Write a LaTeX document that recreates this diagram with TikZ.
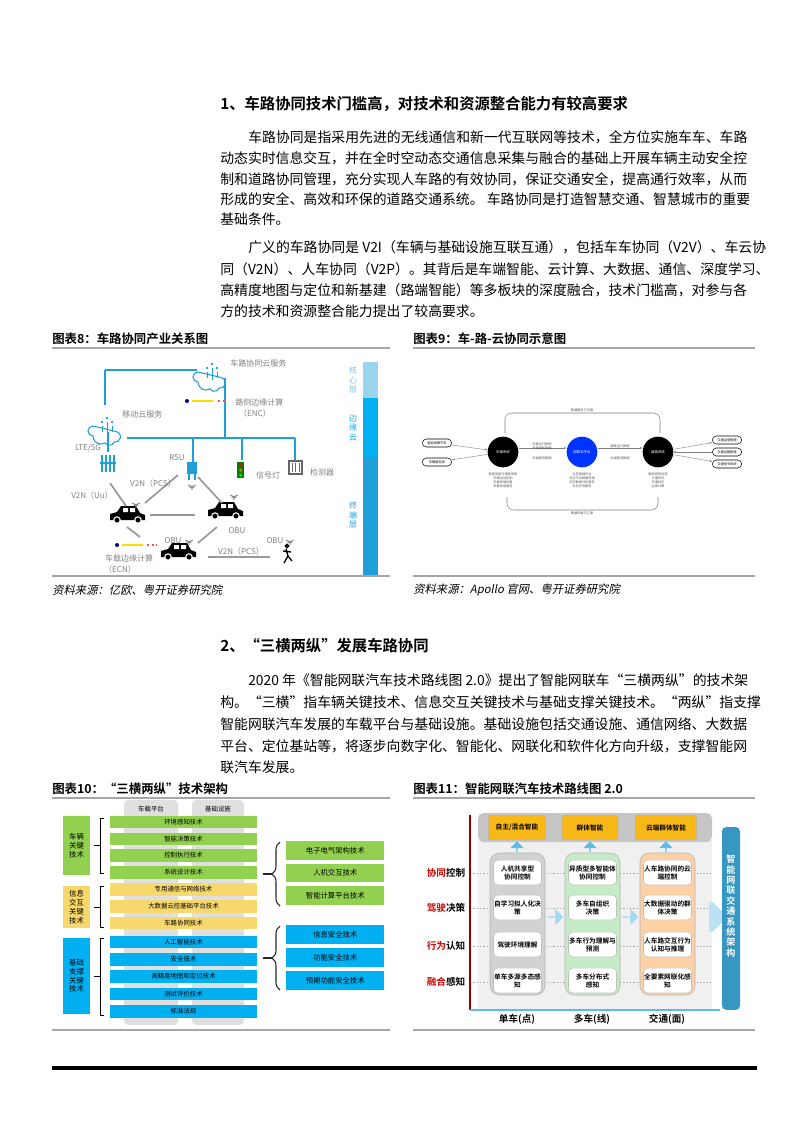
\documentclass[tikz,border=0pt]{standalone}
\usepackage{fontspec}
\setmainfont{Noto Sans CJK SC}[BoldFont={Noto Sans CJK SC Bold}]
\newfontfamily\srcfont{Noto Sans CJK SC}[FakeSlant=0.2]
\usetikzlibrary{arrows.meta,decorations.pathreplacing,shapes.arrows,calc}
\definecolor{lblue}{HTML}{1E9FD8}
\definecolor{gbar}{HTML}{92D050}
\definecolor{ybar}{HTML}{F6D86C}
\definecolor{bbar}{HTML}{00B0F0}
\definecolor{obox}{HTML}{F7B818}
\tikzset{
 body/.style={anchor=west,inner sep=0,font=\fontsize{10.4}{12}\selectfont},
 head/.style={anchor=west,inner sep=0,font=\bfseries\fontsize{11.5}{13}\selectfont},
 capt/.style={anchor=west,inner sep=0,font=\bfseries\fontsize{9.3}{11}\selectfont},
 src/.style={anchor=west,inner sep=0,font=\srcfont\fontsize{8.5}{10}\selectfont},
 gl/.style={gray,font=\fontsize{6}{7}\selectfont,inner sep=0},
 net/.style={lblue,line width=1.4pt},
 link/.style={gray!80,line width=1.3pt},
 bar/.style={minimum width=110.25pt,minimum height=9.5pt,inner sep=0,font=\fontsize{4.8}{5}\selectfont},
 rbox/.style={minimum width=73.5pt,minimum height=14pt,inner sep=0,anchor=west,font=\fontsize{5.5}{6}\selectfont},
 lbox/.style={inner sep=0,align=center,font=\fontsize{5.5}{6.6}\selectfont},
 ibox/.style={draw=gray!50,fill=white,rounded corners=3pt,minimum width=36pt,minimum height=18.5pt,inner sep=0,align=center,font=\bfseries\fontsize{5}{6}\selectfont},
 tbox/.style={fill=obox,draw=gray!60,rounded corners=2pt,minimum height=18.5pt,inner sep=0,font=\bfseries\fontsize{5}{6}\selectfont},
 rowl/.style={inner sep=0,font=\bfseries\fontsize{7.2}{8}\selectfont},
 tiny/.style={inner sep=0,font=\fontsize{2.4}{3}\selectfont,gray!70!black,align=center},
 pill/.style={draw=black,rounded corners=3pt,minimum width=22pt,minimum height=6pt,inner sep=0,font=\fontsize{2.4}{3}\selectfont},
 circ/.style={circle,minimum size=23pt,inner sep=0,text=white,font=\fontsize{2.6}{3}\selectfont},
 uparr/.style={single arrow,shape border rotate=90,fill=lblue!70,minimum height=8pt,minimum width=10pt,single arrow head extend=2pt,inner sep=0},
 rtarr/.style={single arrow,fill=lblue!40,minimum height=12pt,minimum width=12pt,single arrow head extend=2pt,inner sep=0},
}
\begin{document}
\begin{tikzpicture}[x=0.75pt,y=-0.75pt]
\useasboundingbox (0,0) rectangle (793,1122);
% ---------------- text
\node[head] (h1) at (220,104) {1、车路协同技术门槛高，对技术和资源整合能力有较高要求};
\node[body] (p1) at (248,137) {车路协同是指采用先进的无线通信和新一代互联网等技术，全方位实施车车、车路};
\node[body] (p2) at (220,158) {动态实时信息交互，并在全时空动态交通信息采集与融合的基础上开展车辆主动安全控};
\node[body] (p3) at (220,179) {制和道路协同管理，充分实现人车路的有效协同，保证交通安全，提高通行效率，从而};
\node[body] (p4) at (220,199) {形成的安全、高效和环保的道路交通系统。 车路协同是打造智慧交通、智慧城市的重要};
\node[body] (p5) at (220,219) {基础条件。};
\node[body] (q1) at (248,247) {广义的车路协同是 V2I（车辆与基础设施互联互通），包括车车协同（V2V）、车云协};
\node[body] (q2) at (220,269) {同（V2N）、人车协同（V2P）。其背后是车端智能、云计算、大数据、通信、深度学习、};
\node[body] (q3) at (220,290) {高精度地图与定位和新基建（路端智能）等多板块的深度融合，技术门槛高，对参与各};
\node[body] (q4) at (220,311) {方的技术和资源整合能力提出了较高要求。};
\node[head] (h2) at (220,646) {2、“三横两纵”发展车路协同};
\node[body] (r1) at (248,680) {2020 年《智能网联汽车技术路线图 2.0》提出了智能网联车“三横两纵”的技术架};
\node[body] (r2) at (220,702) {构。“三横”指车辆关键技术、信息交互关键技术与基础支撑关键技术。“两纵”指支撑};
\node[body] (r3) at (220,724) {智能网联汽车发展的车载平台与基础设施。基础设施包括交通设施、通信网络、大数据};
\node[body] (r4) at (220,746) {平台、定位基站等，将逐步向数字化、智能化、网联化和软件化方向升级，支撑智能网};
\node[body] (r5) at (220,767) {联汽车发展。};
% captions
\node[capt] (c8) at (52,339) {图表8：车路协同产业关系图};
\node[capt] (c9) at (413,339) {图表9：车-路-云协同示意图};
\node[capt] (c10) at (52,789) {图表10：“三横两纵”技术架构};
\node[capt] (c11) at (413,789) {图表11：智能网联汽车技术路线图 2.0};
\draw[gray!70,line width=0.9pt] (52,348)--(390,348) (413,348)--(755,348) (52,576)--(390,576) (413,576)--(755,576)
  (52,798)--(390,798) (413,798)--(755,798) (52,1030)--(390,1030) (413,1030)--(755,1030);
\node[src] (s8) at (52,590) {资料来源：亿欧、粤开证券研究院};
\node[src] (s9) at (413,590) {资料来源：Apollo 官网、粤开证券研究院};
\draw[black,line width=2.4pt] (52,1068)--(757,1068);
% ---------------- figure 8
\fill[lblue!45] (363,362) rectangle (378,398);
\fill[bbar] (363,398) rectangle (378,457);
\fill[lblue] (363,457) rectangle (378,575);
\node[lbox,lblue!60,font=\fontsize{6}{7}\selectfont] (l1) at (353,380) {核\\心\\层};
\node[lbox,bbar,font=\fontsize{6}{7}\selectfont] (l2) at (353,428) {边\\缘\\云};
\node[lbox,lblue,font=\fontsize{6}{7}\selectfont] (l3) at (353,515) {终\\端\\层};
\draw[net] (105,370)--(197,370) (105,370)--(105,405) (225,378)--(225,438) (127,438)--(295,438)
  (193,438)--(193,462) (242,438)--(242,460) (295,438)--(295,460) (108,432)--(108,452);
\foreach \cx/\cy in {212/366,107/420}{
 \fill[white] (\cx,\cy) circle (9);
 \draw[lblue,line width=0.8pt] (\cx-14,\cy+6) arc (270:90:5) arc (180:60:8) arc (150:20:5) arc (100:-90:5.5) -- cycle;
 \draw[lblue,line width=0.7pt] (\cx-5,\cy+6)--(\cx-5,\cy+12) (\cx,\cy+2)--(\cx,\cy+14) (\cx+5,\cy+6)--(\cx+5,\cy+12);
 \fill[lblue] (\cx-5,\cy+2) circle (1.3) (\cx,\cy-2) circle (1.3) (\cx+5,\cy+2) circle (1.3);}
\node[gl,anchor=west] (t1) at (230,363) {车路协同云服务};
\node[gl,anchor=west] (t2) at (122,414) {移动云服务};
\fill[blue!50!black] (187,401) circle (2);
\draw[yellow!80!orange,line width=1.5pt] (192,401)--(213,401);
\draw[red!70,line width=1.2pt,dash pattern=on 1.5pt off 2pt] (218,401)--(226,401);
\node[gl,anchor=west] (t3) at (235,402) {路侧边缘计算};
\node[gl] (t4) at (255,413) {（ENC）};
\node[gl] (t5) at (88,448) {LTE/5G};
\foreach \dx in {-6,-2,2,6}\draw[lblue,line width=1.2pt] (108+\dx,455)--(108+\dx,472);
\draw[lblue,line width=1.2pt] (100,463)--(116,463);
\node[gl] (t6) at (177,458) {RSU};
\fill[lblue] (187,462) rectangle (197,474);
\draw[lblue,line width=0.8pt] (189,474)--(189,480) (195,474)--(195,480);
\fill[green!50!black] (237,462) rectangle (244,478);
\fill[red] (240.5,465) circle (1.5); \fill[orange] (240.5,470) circle (1.5); \fill[green] (240.5,475) circle (1.5);
\node[gl] (t7) at (268,475) {信号灯};
\draw[gray!80!black,line width=0.8pt] (289,461) rectangle (302,474);
\foreach \dx in {292,295.5,299}\draw[gray!80!black] (\dx,463)--(\dx,472);
\node[gl] (t8) at (322,472) {检测器};
% cars
\foreach \cx/\cy/\nm in {127/516/ca,225/512/cb,178/553/cc}{
 \fill[black] (\cx-17,\cy+4) -- (\cx-17,\cy-2) -- (\cx-10,\cy-4) -- (\cx-6,\cy-10) -- (\cx+9,\cy-10) -- (\cx+13,\cy-3) -- (\cx+18,\cy-1) -- (\cx+18,\cy+4) -- cycle;
 \fill[white] (\cx-4,\cy-8) rectangle (\cx+1,\cy-4) (\cx+3,\cy-8) rectangle (\cx+8,\cy-4);
 \filldraw[fill=black,draw=white,line width=0.8pt] (\cx-10,\cy+4) circle (3.2) (\cx+11,\cy+4) circle (3.2);
 \coordinate (\nm) at (\cx,\cy);}
\draw[black,line width=1pt] (287,546) circle (1.6) (286,549)--(288,556)--(284,563) (288,556)--(292,561) (283,551)--(291,552);
\draw[link] (110,483)--(126,506);
\draw[link] (178,475)--(145,503);
\draw[link] (198,477)--(222,503);
\draw[link] (150,515)--(195,515);
\draw[link] (127,527)--(140,537);
\draw[link] (217,527)--(198,543);
\draw[link] (208,557)--(270,557);
\foreach \wx/\wy in {136/503,234/495,189/540,290/540,192/485}{
 \draw[gray,line width=0.6pt] (\wx-4,\wy) arc (135:45:5.6) (\wx-2.5,\wy+2) arc (135:45:3.5);
 \fill[gray] (\wx,\wy+4) circle (0.8);}
\node[gl] (t9) at (92,495) {V2N（Uu）};
\node[gl] (t10) at (153,483) {V2N（PCS）};
\node[gl] (t11) at (237,531) {OBU};
\node[gl] (t12) at (173,541) {OBU};
\node[gl] (t13) at (275,541) {OBU};
\node[gl] (t14) at (241,551) {V2N（PCS）};
\fill[blue!50!black] (117,545) circle (2);
\draw[yellow!80!orange,line width=1.5pt] (122,545)--(143,545);
\draw[red!70,line width=1.2pt,dash pattern=on 1.5pt off 2pt] (147,545)--(157,545);
\node[gl] (t15) at (129,558) {车载边缘计算};
\node[gl] (t16) at (120,569) {（ECN）};
% ---------------- figure 9
\node[circ,fill=black] (v1) at (503,452) {车辆系统};
\node[circ,fill=blue!80!cyan] (v2) at (582,452) {网联云平台};
\node[circ,fill=black] (v3) at (658,452) {道路系统};
\node[pill] (b1) at (437,443) {智能网联汽车};
\node[pill] (b2) at (437,462) {车辆服务商};
\node[pill] (b3) at (727,440) {交通运营管理};
\node[pill] (b4) at (727,452) {交通运输管理};
\node[pill] (b5) at (727,464) {交通信号系统};
\draw[gray,line width=0.3pt,-{Stealth[length=2pt]}] (b1)--(v1);
\draw[gray,line width=0.3pt,-{Stealth[length=2pt]}] (v1)--(b2);
\draw[gray,line width=0.3pt,-{Stealth[length=2pt]}] ($(v1.east)+(0,-4)$) -- ($(v2.west)+(0,-4)$);
\draw[gray,line width=0.3pt,-{Stealth[length=2pt]}] ($(v2.east)+(0,-4)$) -- ($(v3.west)+(0,-4)$);
\draw[gray,line width=0.3pt,-{Stealth[length=2pt]}] (v3)--(b3);
\draw[gray,line width=0.3pt,-{Stealth[length=2pt]}] (b4)--(v3);
\draw[gray,line width=0.3pt,-{Stealth[length=2pt]}] (v3)--(b5);
\draw[gray,line width=0.4pt,rounded corners=5pt] (505,433)--(505,413)--(660,413)--(660,433);
\draw[gray,line width=0.4pt,rounded corners=5pt] (507,497)--(507,510)--(658,510)--(658,497);
\node[tiny] (x1) at (582,410) {数据服务与交换};
\node[tiny] (x2) at (582,513) {数据采集与汇聚};
\node[tiny] (x3) at (542,446) {车辆运行数据\\车辆感知数据};
\node[tiny] (x4) at (542,458) {云端服务数据};
\node[tiny] (x5) at (620,446) {道路运行数据};
\node[tiny] (x6) at (620,458) {云端服务数据};
\node[tiny] (x7) at (503,480) {智能驾驶与辅助驾驶\\车辆运动控制\\车载终端设备\\车辆信息服务};
\node[tiny] (x8) at (582,480) {云控基础平台\\云控平台数据资源\\云控数据分析服务\\云控应用服务};
\node[tiny] (x9) at (658,480) {路侧感知设施\\交通信号\\交通标志\\边缘计算};
% ---------------- figure 10
\fill[gray!25,rounded corners=3pt] (124,800) rectangle (178,1025);
\fill[gray!25,rounded corners=3pt] (192,800) rectangle (244,1025);
\node[inner sep=0,font=\fontsize{4.8}{5}\selectfont] (cz) at (151,809) {车载平台};
\node[inner sep=0,font=\fontsize{4.8}{5}\selectfont] (jc) at (218,809) {基础设施};
\foreach \y/\t/\c in {822/环境感知技术/gbar,839/智能决策技术/gbar,855.5/控制执行技术/gbar,872.5/系统设计技术/gbar,
 889.5/专用通信与网络技术/ybar,906.5/大数据云控基础平台技术/ybar,923/车路协同技术/ybar,
 942/人工智能技术/bbar,959.5/安全技术/bbar,976.5/高精度地图和定位技术/bbar,994/测试评价技术/bbar,1011.5/标准法规/bbar}
 \node[bar,fill=\c] at (183.5,\y) {\t};
\node[lbox,fill=gbar,minimum width=20pt,minimum height=44pt] (k1) at (76.5,845.5) {车辆\\关键\\技术};
\node[lbox,fill=ybar,minimum width=20pt,minimum height=31.5pt] (k2) at (76.5,907) {信息\\交互\\关键\\技术};
\node[lbox,fill=bbar,minimum width=20pt,minimum height=57pt] (k3) at (76.5,976) {基础\\支撑\\关键\\技术};
\draw[line width=0.7pt] (104,818)--(100,818)--(100,873)--(104,873) (94,845.5)--(100,845.5);
\draw[line width=0.7pt] (104,886)--(100,886)--(100,927)--(104,927) (94,907)--(100,907);
\draw[line width=0.7pt] (104,938)--(100,938)--(100,1015)--(104,1015) (94,976)--(100,976);
\node[rbox,fill=gbar] (g1) at (286,850.5) {电子电气架构技术};
\node[rbox,fill=gbar] (g2) at (286,873) {人机交互技术};
\node[rbox,fill=gbar] (g3) at (286,895.5) {智能计算平台技术};
\node[rbox,fill=bbar] (u1) at (286,934.5) {信息安全技术};
\node[rbox,fill=bbar] (u2) at (286,957.5) {功能安全技术};
\node[rbox,fill=bbar] (u3) at (286,980.5) {预期功能安全技术};
\draw[decorate,decoration={brace,amplitude=6pt,mirror},line width=0.8pt,gray!30!black] (280,842)--(280,906);
\draw[decorate,decoration={brace,amplitude=6pt,mirror},line width=0.8pt,gray!30!black] (280,926)--(280,990);
\draw[gray!30!black,line width=0.8pt] (263,874)--(272,874) (263,958)--(272,958);
% ---------------- figure 11
\fill[gray!12] (478,840) rectangle (712,1010);
\fill[gray!45,rounded corners=4pt] (478,813) rectangle (712,842);
\foreach \y in {873,908,946,982}\draw[gray!70,dash pattern=on 1pt off 1.5pt,line width=0.5pt] (470,\y)--(712,\y);
\draw[red!60!black,line width=1.2pt] (470,815)--(470,1010);
\draw[lblue!70,line width=1.2pt] (470,1010)--(720,1010);
\fill[gray!35,draw=gray!60,rounded corners=7pt] (490,853) rectangle (545,995);
\fill[green!50!gray!30,draw=gray!60,rounded corners=7pt] (565,853) rectangle (620,995);
\fill[orange!35,draw=gray!60,rounded corners=7pt] (640,853) rectangle (695,995);
\node[tbox,minimum width=43pt] (o1) at (517,827.5) {自主/混合智能};
\node[tbox,minimum width=42pt] (o2) at (590,827.5) {群体智能};
\node[tbox,minimum width=46pt] (o3) at (666,827.5) {云端群体智能};
\foreach \x in {517,590,666}\node[uparr] at (\x,847) {};
\node[rtarr] (a1) at (555,917) {};
\node[rtarr] (a2) at (630,917) {};
\node[single arrow,fill=lblue!30,minimum height=14pt,minimum width=22pt,single arrow head extend=0pt,inner sep=0] (a3) at (711,917) {};
\node[ibox] at (517.5,872.5) {人机共享型\\协同控制};
\node[ibox] at (517.5,907.5) {自学习拟人化决\\策};
\node[ibox] at (517.5,944.5) {驾驶环境理解};
\node[ibox] at (517.5,980.5) {单车多源多态感\\知};
\node[ibox] at (592.5,872.5) {异质型多智能体\\协同控制};
\node[ibox] at (592.5,907.5) {多车自组织\\决策};
\node[ibox] at (592.5,944.5) {多车行为理解与\\预测};
\node[ibox] at (592.5,980.5) {多车分布式\\感知};
\node[ibox] at (667.5,872.5) {人车路协同的云\\端控制};
\node[ibox] at (667.5,907.5) {大数据驱动的群\\体决策};
\node[ibox] at (667.5,944.5) {人车路交互行为\\认知与推理};
\node[ibox] at (667.5,980.5) {全要素网联化感\\知};
\node[rowl] (w1) at (446,873) {\textcolor{red!80!black}{协同}控制};
\node[rowl] (w2) at (446,908) {\textcolor{red!80!black}{驾驶}决策};
\node[rowl] (w3) at (446,946) {\textcolor{red!80!black}{行为}认知};
\node[rowl] (w4) at (446,982) {\textcolor{red!80!black}{融合}感知};
\node[fill=lblue!75!gray,rounded corners=3pt,minimum width=13.5pt,minimum height=137pt,inner sep=0] (sb) at (731,918.5) {};
\node[white,inner sep=0,align=center,font=\bfseries\fontsize{6.8}{7.8}\selectfont] at (731,906) {智\\能\\网\\联\\交\\通\\系\\统\\架\\构};
\node[rowl] (z1) at (517,1019) {单车(点)};
\node[rowl] (z2) at (592,1019) {多车(线)};
\node[rowl] (z3) at (667,1019) {交通(面)};
\end{tikzpicture}
\end{document}
